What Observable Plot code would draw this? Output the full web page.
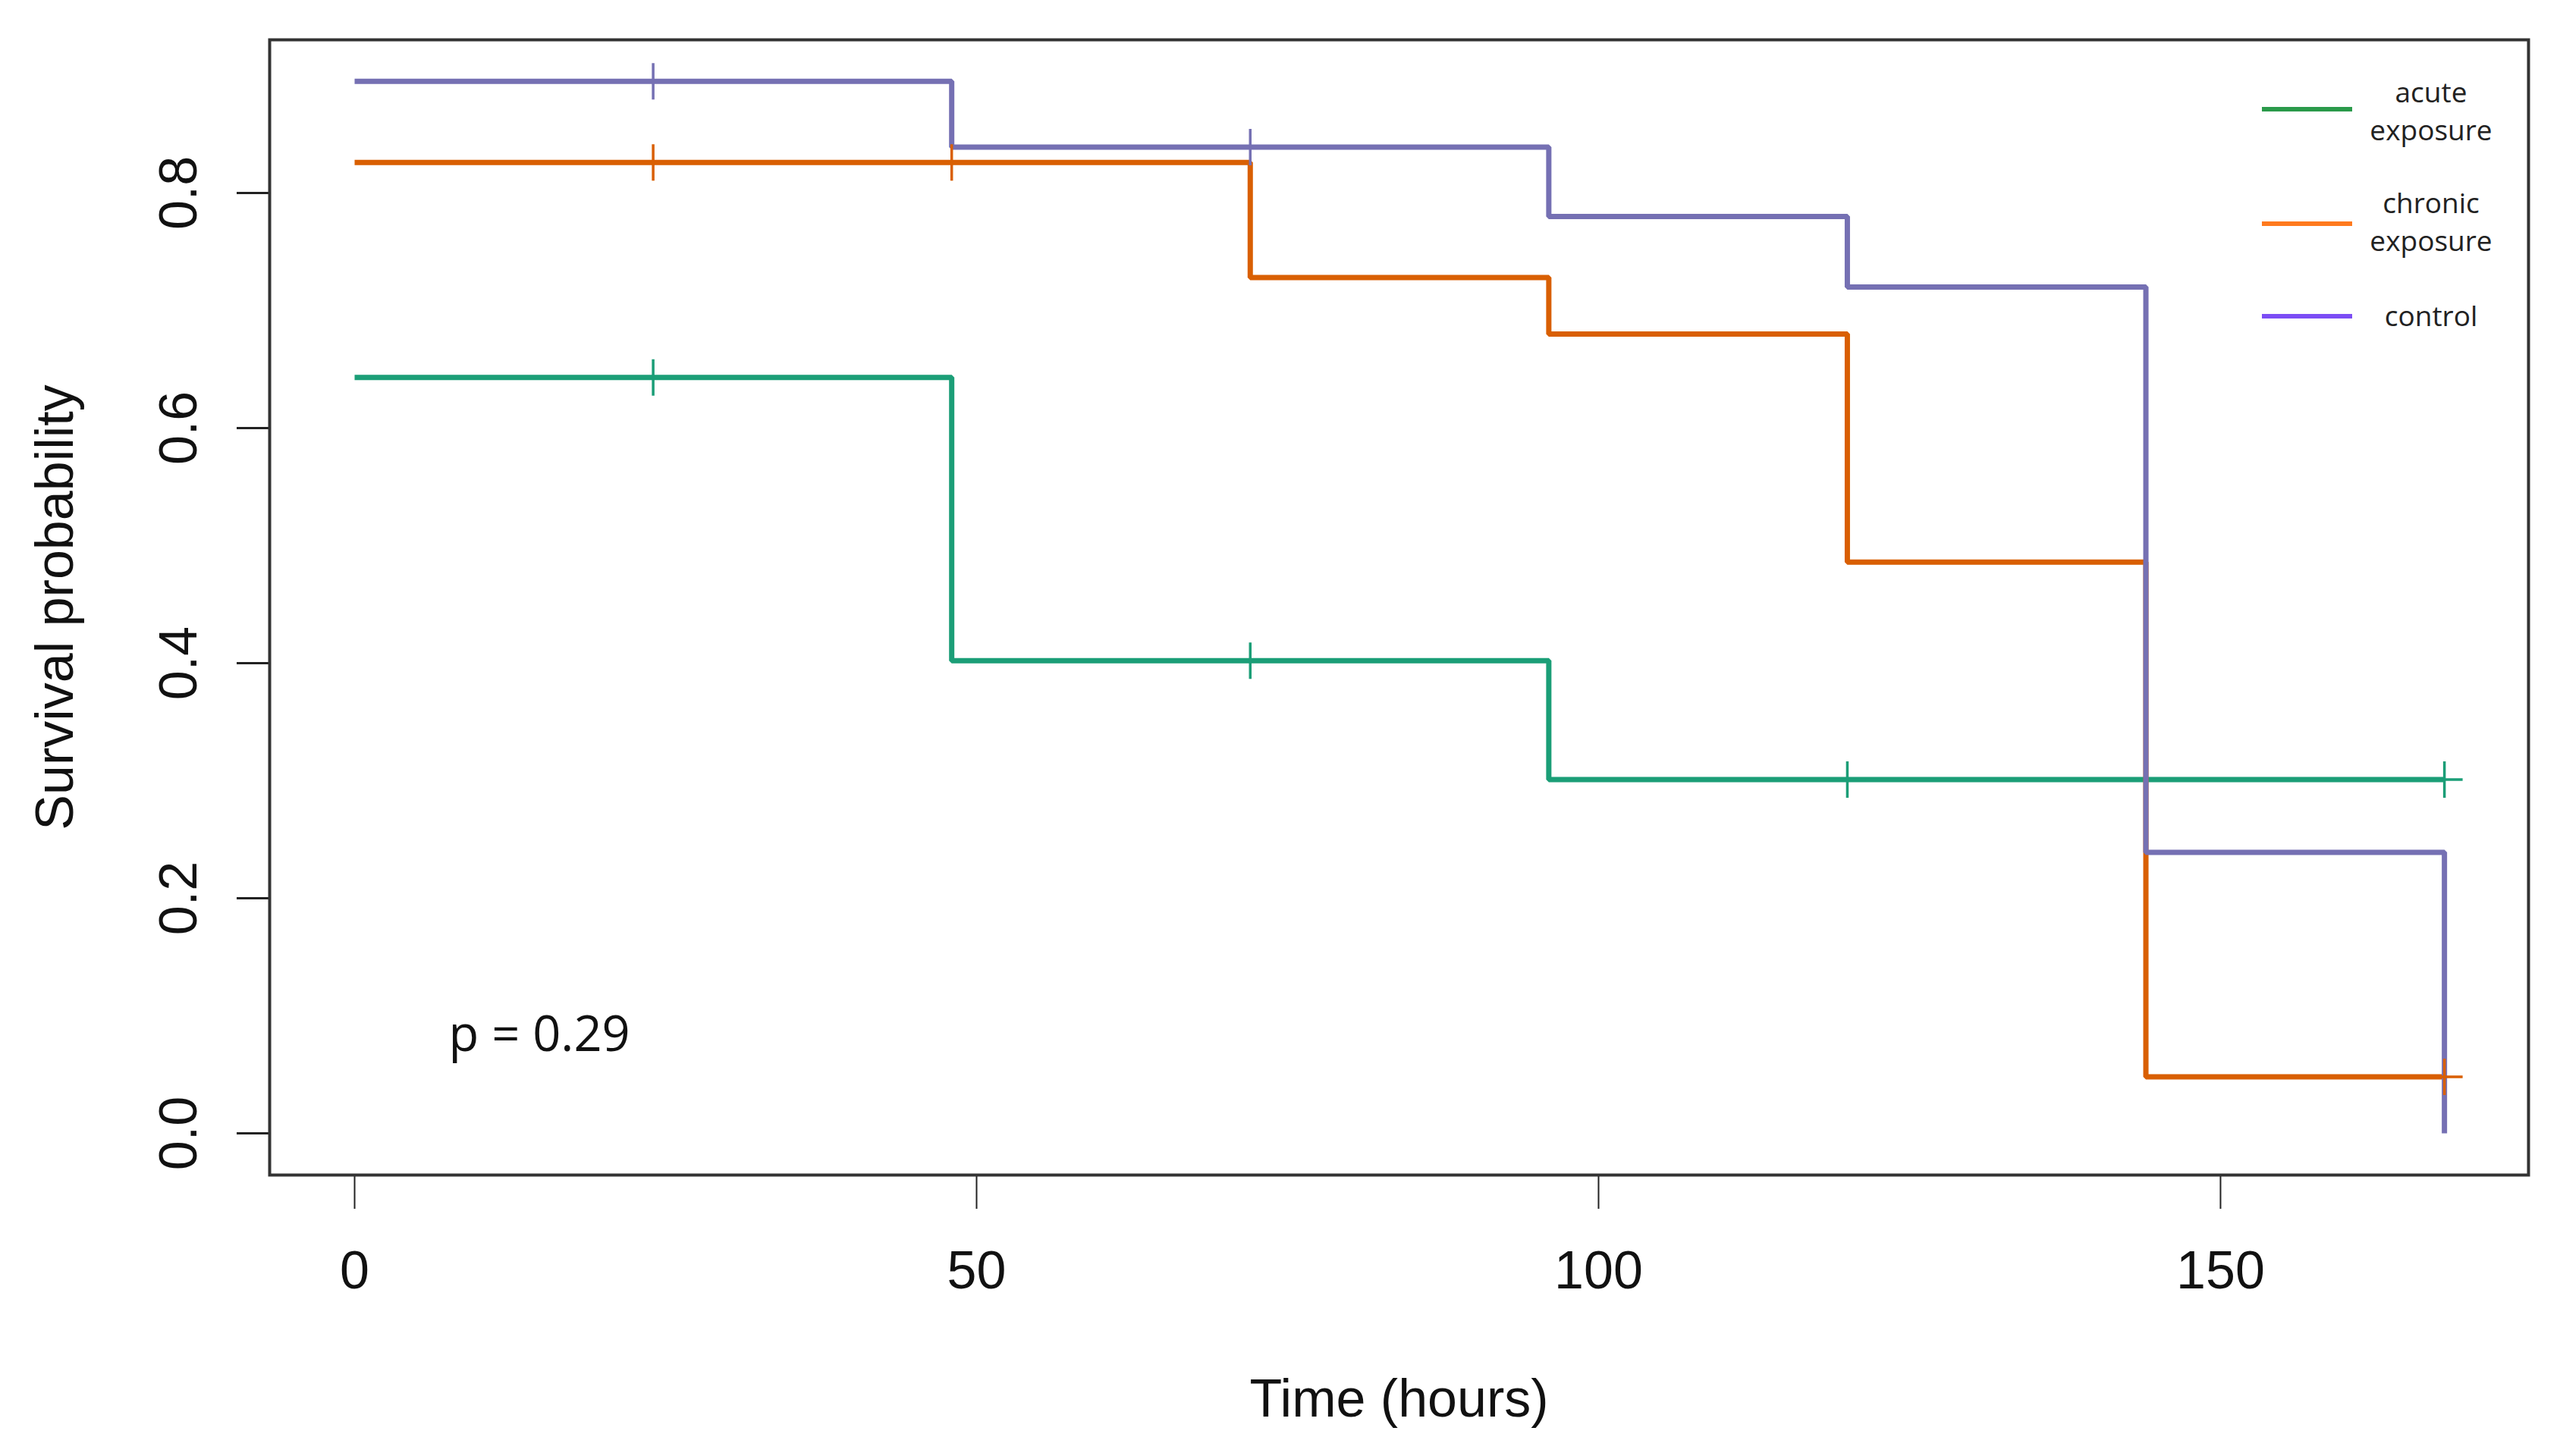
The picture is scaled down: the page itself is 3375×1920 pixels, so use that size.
<!DOCTYPE html>
<html>
<head>
<meta charset="utf-8">
<script src="https://cdn.jsdelivr.net/npm/d3@7"></script>
<script src="https://cdn.jsdelivr.net/npm/@observablehq/plot@0.6"></script>
<style>
  html, body { margin: 0; padding: 0; background: #fff; }
  #wrap { position: relative; width: 3375px; height: 1920px; overflow: hidden; }
  .leg-line { position: absolute; height: 6px; left: 2982px; width: 119px; }
  .leg-text { position: absolute; font-family: "Open Sans", sans-serif; font-size: 37px; color: #222;
              width: 300px; left: 3055px; text-align: center; line-height: 50px; }
</style>
</head>
<body>
<div id="wrap"></div>
<script>
// ---- data ----
const groups = ["acute exposure", "chronic exposure", "control"];
const curveColors = ["#1B9E77", "#D95F02", "#7570B3"];
const legendColors = ["#2A9A4A", "#FF7A1E", "#7C4DF5"];

const acuteTimes = [0, 48, 96];
const acuteSurv = [0.643, 0.402, 0.301];
const chronicTimes = [0, 72, 96, 120, 144];
const chronicSurv = [0.826, 0.728, 0.680, 0.486, 0.048];
const controlTimes = [0, 48, 96, 120, 144, 168];
const controlSurv = [0.895, 0.839, 0.780, 0.720, 0.239, 0.0];
const endTime = 168;

const acuteCensor = [24, 72, 120, 168];
const chronicCensor = [24, 48, 168];
const controlCensor = [24, 72];

const xTicks = [0, 50, 100, 150];
const yTicks = [0, 0.2, 0.4, 0.6, 0.8];
const pLabel = "p = 0.29";

// ---- build tables ----
function stepRows(group, times, surv) {
  const rows = times.map((t, i) => ({group, t, s: surv[i]}));
  const last = times[times.length - 1];
  if (last < endTime) rows.push({group, t: endTime, s: surv[surv.length - 1]});
  return rows;
}
function survAt(times, surv, t) {
  let v = surv[0];
  for (let i = 0; i < times.length; i++) if (times[i] <= t) v = surv[i];
  return v;
}
function censorRows(group, cens, times, surv) {
  return cens.map(t => ({group, t, s: survAt(times, surv, t)}));
}
const lineData = [
  ...stepRows(groups[0], acuteTimes, acuteSurv),
  ...stepRows(groups[1], chronicTimes, chronicSurv),
  ...stepRows(groups[2], controlTimes, controlSurv)
];
const censorData = [
  ...censorRows(groups[0], acuteCensor, acuteTimes, acuteSurv),
  ...censorRows(groups[1], chronicCensor, chronicTimes, chronicSurv),
  ...censorRows(groups[2], controlCensor, controlTimes, controlSurv)
];

const plusSymbol = {
  draw(context, size) {
    const h = Math.sqrt(size / Math.PI);
    context.moveTo(-h, 0); context.lineTo(h, 0);
    context.moveTo(0, -h); context.lineTo(0, h);
  }
};

const W = 3375, H = 1920;
const chart = Plot.plot({
  width: W, height: H,
  marginLeft: 355, marginTop: 52, marginRight: 42, marginBottom: 371,
  style: {background: "#fff", fontFamily: "'Liberation Sans', Arial, sans-serif"},
  x: {domain: [-6.83, 174.76]},
  y: {domain: [-0.0355, 0.9303]},
  color: {domain: groups, range: curveColors},
  marks: [
    Plot.axisX({ticks: xTicks, tickSize: 45, tickPadding: 55, fontSize: 70, label: null,
                stroke: "#222", strokeWidth: 2, fill: "#111"}),
    Plot.axisY({ticks: yTicks, tickSize: 43, tickPadding: 54, fontSize: 70, label: null,
                tickFormat: d3.format(".1f"), tickRotate: -90, textAnchor: "middle", lineAnchor: "bottom",
                stroke: "#222", strokeWidth: 3, fill: "#111"}),
    Plot.line(lineData, {x: "t", y: "s", z: "group", stroke: "group", curve: "step-after",
                         strokeWidth: 7, strokeLinejoin: "miter", strokeLinecap: "butt"}),
    Plot.dot(censorData, {x: "t", y: "s", stroke: "group", symbol: plusSymbol, r: 24, strokeWidth: 3.5}),
    Plot.text([pLabel], {frameAnchor: "bottom-left", dx: 591 - 355, dy: 1385 - 1549,
                         textAnchor: "start", lineAnchor: "bottom", fontSize: 65,
                         fontFamily: "'Open Sans', sans-serif", fill: "#111"}),
    Plot.text(["Time (hours)"], {frameAnchor: "bottom", dy: 1867 - 1549, lineAnchor: "bottom",
                                 fontSize: 70, fill: "#111"}),
    Plot.text(["Survival probability"], {frameAnchor: "left", dx: 95 - 355, rotate: -90,
                                         lineAnchor: "bottom", textAnchor: "middle", fontSize: 70, fill: "#111"}),
    Plot.frame({stroke: "#333", strokeWidth: 4})
  ]
});
const wrap = document.getElementById("wrap");
wrap.appendChild(chart);

// legend
const legendRows = [
  {lineY: 144, lines: ["acute", "exposure"], baseTop: 132 - 36},
  {lineY: 295, lines: ["chronic", "exposure"], baseTop: 278 - 36},
  {lineY: 417, lines: ["control"], baseTop: 427 - 36}
];
legendRows.forEach((r, i) => {
  const l = document.createElement("div");
  l.className = "leg-line";
  l.style.top = (r.lineY - 3) + "px";
  l.style.background = legendColors[i];
  wrap.appendChild(l);
  const t = document.createElement("div");
  t.className = "leg-text";
  t.style.top = r.baseTop + "px";
  t.innerHTML = r.lines.join("<br>");
  wrap.appendChild(t);
});
</script>
</body>
</html>
